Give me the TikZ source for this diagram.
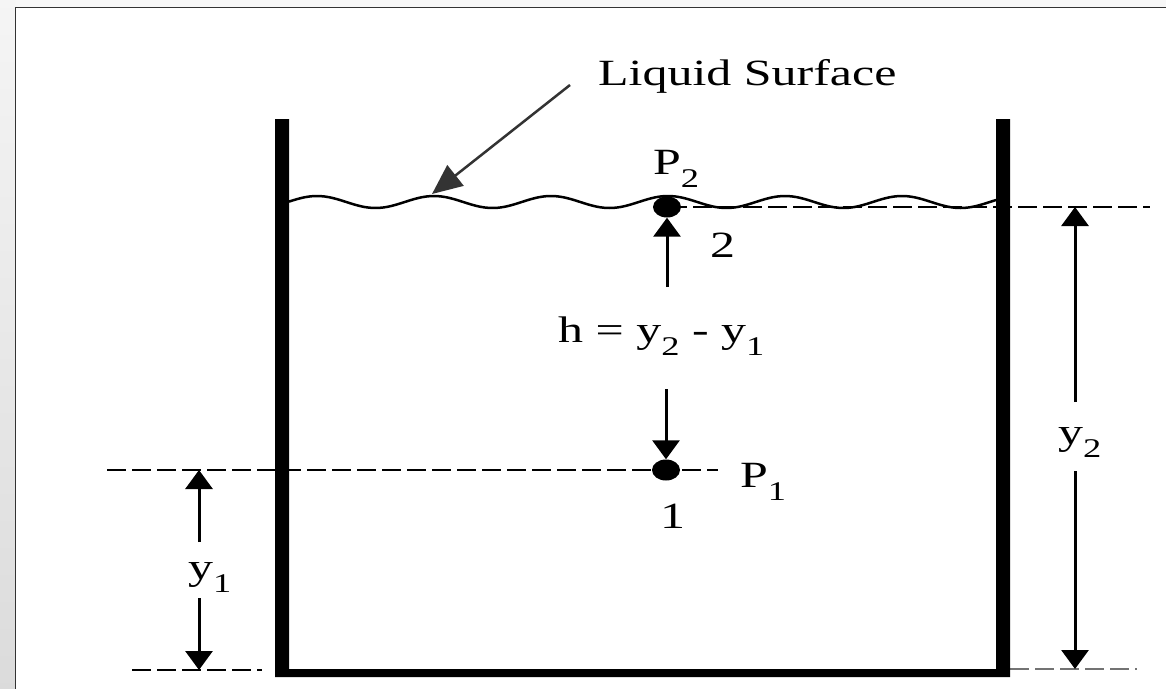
\documentclass[tikz,border=0pt]{standalone}
\usepackage{fontspec}
\setmainfont{Liberation Serif}
\usetikzlibrary{arrows.meta,shapes.geometric}
\newcommand\stretchtxt[1]{\scalebox{1.35}[1]{#1}}
\newcommand\subsc[1]{\raisebox{-13pt}{\fontsize{27}{30}\selectfont #1}}
\begin{document}
\begin{tikzpicture}[x=1pt,y=-1pt,
  lbl/.style={font=\fontsize{37}{40}\selectfont, inner sep=0pt, anchor=base west},
  arr/.style={line width=3pt, -{Triangle[length=19pt,width=27pt]}},
  ptr/.style={line width=2.5pt, draw=black!80, -{Triangle[length=30pt,width=26pt]}},
  dashline/.style={line width=2.5pt, dash pattern=on 19pt off 6pt},
  dotnode/.style={ellipse, fill=black, minimum width=28pt, minimum height=21pt, inner sep=0pt},
  wave/.style={line width=2.5pt}
]
\useasboundingbox (0,0) rectangle (1166,688);
% background and frame
\fill[white] (0,0) rectangle (1166,688);
\fill[gray!6] (0,0) rectangle (1166,7);
\shade[top color=gray!8, bottom color=gray!28] (0,0) rectangle (15,688);
\draw[black!80, line width=1.5pt] (15.5,700) -- (15.5,7.5) -- (1180,7.5);

% named points
\coordinate (d2) at (1150,207);
\coordinate (d1a) at (107,470);
\coordinate (d1b) at (718,470);
\coordinate (bla) at (132,670);
\coordinate (blb) at (262,670);
\coordinate (bra) at (1010,669);
\coordinate (brb) at (1137,669);

% dashed reference lines
\draw[dashline] (d1a) -- (d1b);
\draw[dashline] (bla) -- (blb);
\draw[dashline, draw=black!55] (bra) -- (brb);
\draw[dashline] (668,207) -- (d2);

% tank
\fill[black] (275,119) -- (289,119) -- (289,669) -- (996,669) -- (996,119)
  -- (1010,119) -- (1010,677) -- (275,677) -- cycle;

% liquid surface
\draw[wave] plot[domain=289:996, samples=160, smooth]
  (\x, {202 - 6*cos(3.0769*(\x-317))});

% points
\node[dotnode] (p2) at (667,207) {};
\node[dotnode] (p1) at (666,470) {};

% labels
\node[lbl] (ls) at (598,85) {\stretchtxt{Liquid Surface}};
\node[lbl] (p2lab) at (653,174) {\stretchtxt{P\subsc{2}}};
\node[lbl] (two) at (710,257) {\stretchtxt{2}};
\node[lbl] (hlab) at (558,342) {\stretchtxt{h = y\subsc{2} - y\subsc{1}}};
\node[lbl] (p1lab) at (740,487) {\stretchtxt{P\subsc{1}}};
\node[lbl] (one) at (660,528) {\stretchtxt{1}};
\node[lbl] (y2lab) at (1058,444) {\stretchtxt{y\subsc{2}}};
\node[lbl] (y1lab) at (188,579) {\stretchtxt{y\subsc{1}}};

% pointer to the liquid surface
\coordinate (lsstart) at (570,85);
\coordinate (lstip) at (432,194);
\draw[ptr] (lsstart) -- (lstip);

% h arrows
\coordinate (hup) at (667,287);
\coordinate (hdn) at (666,389);
\draw[arr] (hup) -- (p2.south);
\draw[arr] (hdn) -- (p1.north);

% y2 dimension
\coordinate (y2a) at (1075,402);
\coordinate (y2t) at (1075,207);
\coordinate (y2b) at (1075,471);
\coordinate (y2e) at (1075,669);
\draw[arr] (y2a) -- (y2t);
\draw[arr] (y2b) -- (y2e);

% y1 dimension
\coordinate (y1a) at (199,542);
\coordinate (y1t) at (199,470);
\coordinate (y1b) at (199,598);
\coordinate (y1e) at (199,670);
\draw[arr] (y1a) -- (y1t);
\draw[arr] (y1b) -- (y1e);
\end{tikzpicture}
\end{document}
